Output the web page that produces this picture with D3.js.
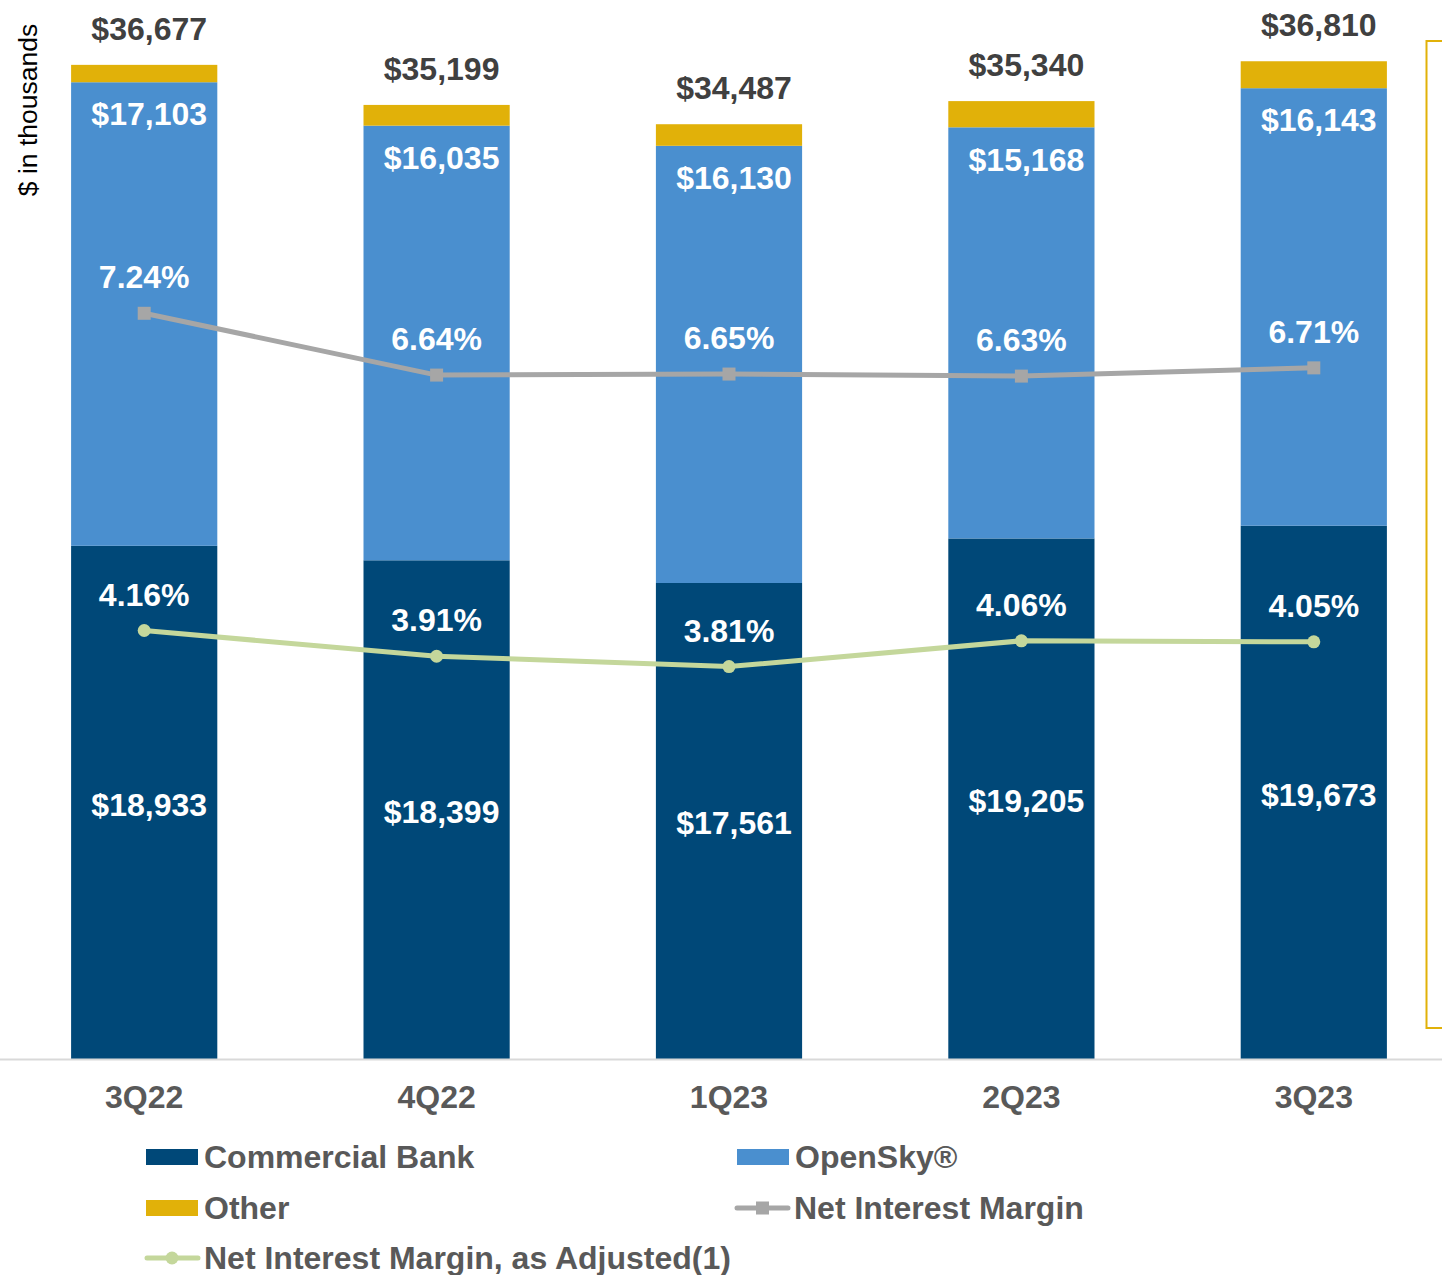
<!DOCTYPE html>
<html>
<head>
<meta charset="utf-8">
<script src="https://cdn.jsdelivr.net/npm/d3@7"></script>
<style>
  html, body { margin: 0; padding: 0; background: #fff; }
  svg { display: block; font-family: "Liberation Sans", Arial, sans-serif; }
</style>
</head>
<body>
<svg id="chart" width="1442" height="1275"></svg>
<script>
const categories = ["3Q22", "4Q22", "1Q23", "2Q23", "3Q23"];
const commercialBank = [18933, 18399, 17561, 19205, 19673];
const openSky = [17103, 16035, 16130, 15168, 16143];
const other = [641, 765, 796, 967, 994];
const totals = [36677, 35199, 34487, 35340, 36810];
const nim = [7.24, 6.64, 6.65, 6.63, 6.71];
const nimAdjusted = [4.16, 3.91, 3.81, 4.06, 4.05];

const colors = {
  cb: "#004878",
  os: "#4A8FCF",
  other: "#E1B109",
  nim: "#A6A6A6",
  nimAdj: "#C4D79B",
  axis: "#D9D9D9",
  cat: "#595959",
  total: "#404040"
};

const svg = d3.select("#chart");
const baseY = 1059, topY = 29;

const x = d3.scaleBand().domain(categories).range([-2, 1460]).paddingInner(0.5).paddingOuter(0.25);
const y = d3.scaleLinear().domain([0, 38000]).range([baseY, topY]);
const y2 = d3.scaleLinear().domain([0, 10]).range([baseY, topY]);

const rows = categories.map((c, i) => ({ c, cb: commercialBank[i], os: openSky[i], ot: other[i], total: totals[i], nim: nim[i], adj: nimAdjusted[i] }));
const stack = d3.stack().keys(["cb", "os", "ot"])(rows);
const fills = { cb: colors.cb, os: colors.os, ot: colors.other };

// bars
svg.append("g").selectAll("g").data(stack).join("g")
  .attr("fill", d => fills[d.key])
  .selectAll("rect").data(d => d).join("rect")
  .attr("x", d => x(d.data.c))
  .attr("width", x.bandwidth())
  .attr("y", d => y(d[1]))
  .attr("height", d => y(d[0]) - y(d[1]));

// x axis
const xAxis = svg.append("g").attr("transform", `translate(0,${baseY})`)
  .call(d3.axisBottom(x).tickSize(0).tickPadding(26));
xAxis.select(".domain").attr("stroke", colors.axis).attr("stroke-width", 2);
xAxis.selectAll("text").attr("font-size", 32).attr("font-weight", "bold")
  .attr("fill", colors.cat).attr("font-family", "Liberation Sans, Arial, sans-serif");

const cx = c => x(c) + x.bandwidth() / 2;
const lblFont = 32;

// commercial bank labels (centered)
svg.append("g").selectAll("text").data(rows).join("text")
  .attr("x", d => cx(d.c) + 5)
  .attr("y", d => y(d.cb / 2) + 2)
  .attr("dy", "0.35em").attr("text-anchor", "middle")
  .attr("font-size", lblFont).attr("font-weight", "bold").attr("fill", "#fff")
  .text(d => "$" + d3.format(",")(d.cb));

// opensky labels (inside end)
svg.append("g").selectAll("text").data(rows).join("text")
  .attr("x", d => cx(d.c) + 5)
  .attr("y", d => y(d.cb + d.os) + 32)
  .attr("dy", "0.35em").attr("text-anchor", "middle")
  .attr("font-size", lblFont).attr("font-weight", "bold").attr("fill", "#fff")
  .text(d => "$" + d3.format(",")(d.os));

// totals
svg.append("g").selectAll("text").data(rows).join("text")
  .attr("x", d => cx(d.c) + 5)
  .attr("y", d => y(d.total) - 36)
  .attr("dy", "0.35em").attr("text-anchor", "middle")
  .attr("font-size", lblFont).attr("font-weight", "bold").attr("fill", colors.total)
  .text(d => "$" + d3.format(",")(d.total));

// lines
const line = key => d3.line().x(d => cx(d.c)).y(d => y2(d[key]));
svg.append("path").datum(rows).attr("fill", "none").attr("stroke", colors.nim)
  .attr("stroke-width", 5).attr("d", line("nim"));
svg.append("g").selectAll("rect").data(rows).join("rect")
  .attr("x", d => cx(d.c) - 6.5).attr("y", d => y2(d.nim) - 6.5)
  .attr("width", 13).attr("height", 13).attr("fill", colors.nim);

svg.append("path").datum(rows).attr("fill", "none").attr("stroke", colors.nimAdj)
  .attr("stroke-width", 5).attr("d", line("adj"));
svg.append("g").selectAll("circle").data(rows).join("circle")
  .attr("cx", d => cx(d.c)).attr("cy", d => y2(d.adj)).attr("r", 6.5)
  .attr("fill", colors.nimAdj);

// line labels
const pct = d3.format(".2f");
svg.append("g").selectAll("text").data(rows).join("text")
  .attr("x", d => cx(d.c)).attr("y", d => y2(d.nim) - 36)
  .attr("dy", "0.35em").attr("text-anchor", "middle")
  .attr("font-size", lblFont).attr("font-weight", "bold").attr("fill", "#fff")
  .text(d => pct(d.nim) + "%");
svg.append("g").selectAll("text").data(rows).join("text")
  .attr("x", d => cx(d.c)).attr("y", d => y2(d.adj) - 36)
  .attr("dy", "0.35em").attr("text-anchor", "middle")
  .attr("font-size", lblFont).attr("font-weight", "bold").attr("fill", "#fff")
  .text(d => pct(d.adj) + "%");

// y axis title
svg.append("text")
  .attr("transform", "translate(28,110) rotate(-90)")
  .attr("dy", "0.35em").attr("text-anchor", "middle")
  .attr("font-size", 26.5).attr("fill", "#000")
  .text("$ in thousands");

// yellow bracket at right edge
svg.append("path")
  .attr("d", "M1442,41 H1426.5 V1028 H1442")
  .attr("fill", "none").attr("stroke", colors.other).attr("stroke-width", 2);

// legend
const legendItems = [
  { name: "Commercial Bank", type: "box", color: colors.cb, lx: 146, ly: 1157 },
  { name: "OpenSky®", type: "box", color: colors.os, lx: 737, ly: 1157 },
  { name: "Other", type: "box", color: colors.other, lx: 146, ly: 1208 },
  { name: "Net Interest Margin", type: "square", color: colors.nim, lx: 735, ly: 1208 },
  { name: "Net Interest Margin, as Adjusted(1)", type: "circle", color: colors.nimAdj, lx: 145, ly: 1258 }
];
const lg = svg.append("g").selectAll("g").data(legendItems).join("g")
  .attr("transform", d => `translate(${d.lx},${d.ly})`);
lg.filter(d => d.type === "box").append("rect")
  .attr("x", 0).attr("y", -8).attr("width", 52).attr("height", 16).attr("fill", d => d.color);
lg.filter(d => d.type !== "box").append("line")
  .attr("x1", 2).attr("x2", 53).attr("y1", 0).attr("y2", 0)
  .attr("stroke", d => d.color).attr("stroke-width", 5).attr("stroke-linecap", "round");
lg.filter(d => d.type === "square").append("rect")
  .attr("x", 21).attr("y", -6.5).attr("width", 13).attr("height", 13).attr("fill", d => d.color);
lg.filter(d => d.type === "circle").append("circle")
  .attr("cx", 27).attr("cy", 0).attr("r", 6.5).attr("fill", d => d.color);
lg.append("text")
  .attr("x", d => d.type === "box" ? 58 : 59).attr("y", 0).attr("dy", "0.35em")
  .attr("font-size", lblFont).attr("font-weight", "bold").attr("fill", colors.cat)
  .text(d => d.name);
</script>
</body>
</html>
